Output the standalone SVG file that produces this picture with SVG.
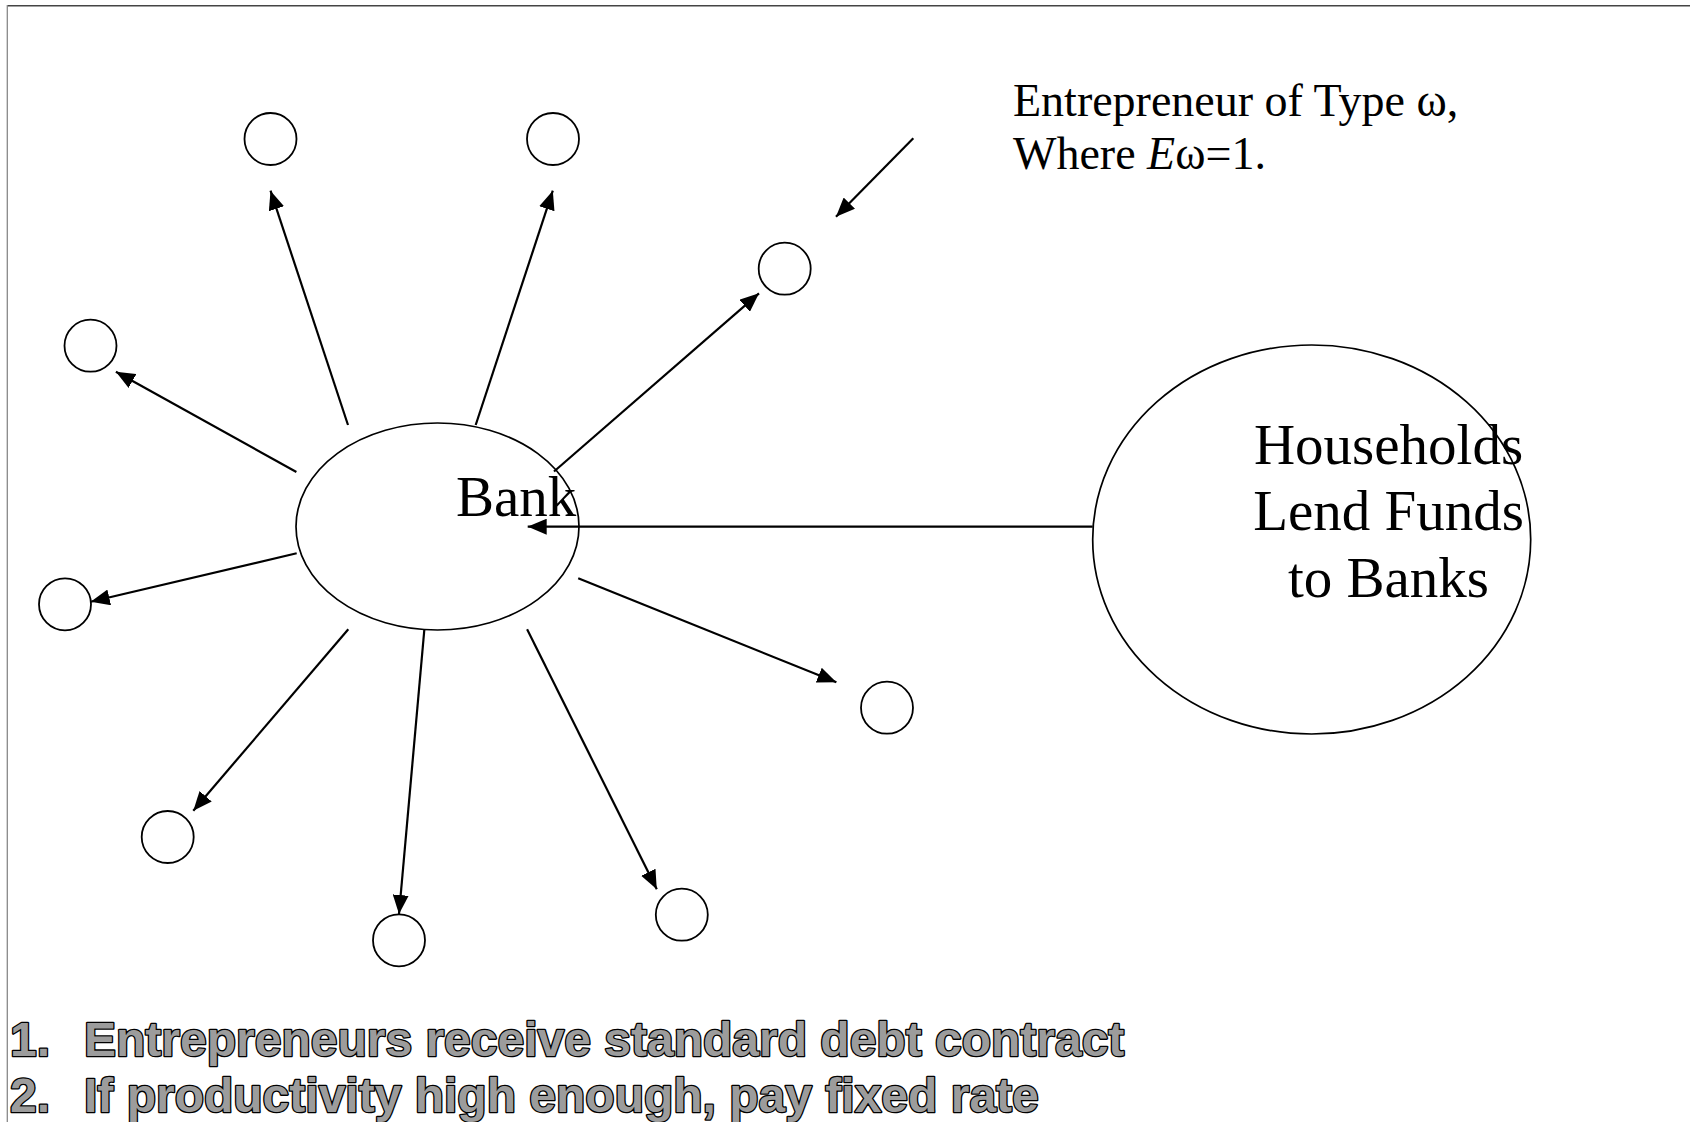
<svg xmlns="http://www.w3.org/2000/svg" width="1690" height="1122" viewBox="0 0 1690 1122">
<style>
.shape{fill:#fff;stroke:#000;stroke-width:1.7}
.dot{fill:none;stroke:#000;stroke-width:1.8}
.conn{stroke:#000;stroke-width:2.2;fill:none}
.serif{font-family:"Liberation Serif","Times New Roman",serif;fill:#000}
.bold{font-family:"Liberation Sans",Arial,sans-serif;font-weight:bold;font-size:48px;fill:#9c9c9c;stroke:#000;stroke-width:2.6;stroke-linejoin:round;paint-order:stroke}
</style>
<defs>
<marker id="ah" markerUnits="userSpaceOnUse" markerWidth="19" markerHeight="16" refX="19" refY="8" orient="auto">
<path d="M0,0 L19,8 L0,16 z" fill="#000"/>
</marker>
</defs>
<rect width="1690" height="1122" fill="#fff"/>
<line x1="7" y1="5.7" x2="1690" y2="5.7" stroke="#444" stroke-width="1.6"/>
<line x1="7.3" y1="5" x2="7.3" y2="1122" stroke="#888" stroke-width="1.3"/>

<g id="households">
<ellipse class="shape" cx="1311.7" cy="539.5" rx="219" ry="194.5"/>
</g>
<g id="bank">
<ellipse class="shape" cx="437.5" cy="526.5" rx="141.5" ry="103.5"/>
</g>
<g id="e1"><circle class="dot" cx="270.5" cy="139" r="26"/></g>
<g id="e2"><circle class="dot" cx="553" cy="139" r="26"/></g>
<g id="e3"><circle class="dot" cx="784.7" cy="268.7" r="26"/></g>
<g id="e4"><circle class="dot" cx="90.5" cy="345.7" r="26"/></g>
<g id="e5"><circle class="dot" cx="65" cy="604.3" r="26"/></g>
<g id="e6"><circle class="dot" cx="887" cy="707.7" r="26"/></g>
<g id="e7"><circle class="dot" cx="167.7" cy="837" r="26"/></g>
<g id="e8"><circle class="dot" cx="399" cy="940.3" r="26"/></g>
<g id="e9"><circle class="dot" cx="681.8" cy="914.7" r="26"/></g>

<g id="connectors">
<line class="conn" x1="1092.7" y1="526.7" x2="527.7" y2="526.7" marker-end="url(#ah)"/>
<line class="conn" x1="348" y1="425" x2="270.5" y2="190.7" marker-end="url(#ah)"/>
<line class="conn" x1="475.7" y1="425" x2="552.8" y2="190.7" marker-end="url(#ah)"/>
<line class="conn" x1="554" y1="471.5" x2="759" y2="293.3" marker-end="url(#ah)"/>
<line class="conn" x1="296.4" y1="472" x2="115.9" y2="371.7" marker-end="url(#ah)"/>
<line class="conn" x1="296.7" y1="553.3" x2="90.7" y2="601.7" marker-end="url(#ah)"/>
<line class="conn" x1="348.3" y1="629.3" x2="193.3" y2="810.7" marker-end="url(#ah)"/>
<line class="conn" x1="424.3" y1="630" x2="399" y2="914" marker-end="url(#ah)"/>
<line class="conn" x1="527.1" y1="629.3" x2="656.8" y2="889.3" marker-end="url(#ah)"/>
<line class="conn" x1="578.2" y1="578.3" x2="836.4" y2="682.3" marker-end="url(#ah)"/>
<line class="conn" x1="913.3" y1="138.3" x2="836" y2="216.7" marker-end="url(#ah)"/>
</g>

<g id="labels">
<text class="serif" x="456" y="516" font-size="57">Bank</text>
<text class="serif" x="1388.5" y="464" font-size="57" text-anchor="middle">Households</text>
<text class="serif" x="1388.5" y="530" font-size="57" text-anchor="middle">Lend Funds</text>
<text class="serif" x="1388.5" y="596.5" font-size="57" text-anchor="middle">to Banks</text>
<text class="serif" x="1013" y="116" font-size="46">Entrepreneur of Type ω,</text>
<text class="serif" x="1013" y="169" font-size="46">Where <tspan font-style="italic">E</tspan>ω=1.</text>
<text class="bold" x="10" y="1056">1.</text>
<text class="bold" x="84" y="1056">Entrepreneurs receive standard debt contract</text>
<text class="bold" x="10" y="1112">2.</text>
<text class="bold" x="84" y="1112">If productivity high enough, pay fixed rate</text>
</g>
</svg>
